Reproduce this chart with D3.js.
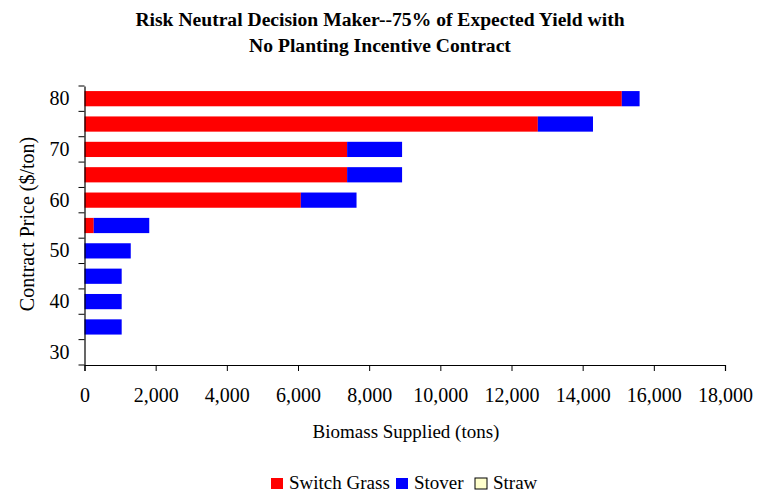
<!DOCTYPE html>
<html>
<head>
<meta charset="utf-8">
<script src="https://cdn.jsdelivr.net/npm/d3@7"></script>
<style>
  html, body { margin: 0; padding: 0; background: #fff; }
  svg { display: block; font-family: "Liberation Serif", "Times New Roman", serif; }
</style>
</head>
<body>
<svg id="chart" width="763" height="496"></svg>
<script>
// Contract price levels ($/ton), top to bottom
const prices = [80, 75, 70, 65, 60, 55, 50, 45, 40, 35, 30];
const labeledPrices = [80, 70, 60, 50, 40, 30];

// Biomass supplied (tons) by feedstock at each price
const switchGrass = [15100, 12740, 7380, 7380, 6080, 260, 0, 0, 0, 0, 0];
const stover      = [500, 1550, 1545, 1545, 1565, 1560, 1300, 1045, 1045, 1045, 0];
const straw       = [0, 0, 0, 0, 0, 0, 0, 0, 0, 0, 0];

const seriesNames = ["Switch Grass", "Stover", "Straw"];
const seriesColors = ["#ff0000", "#0000ff", "#ffffcc"];
const xTicks = [0, 2000, 4000, 6000, 8000, 10000, 12000, 14000, 16000, 18000];

const rows = prices.map((p, i) => ({
  price: p,
  "Switch Grass": switchGrass[i],
  "Stover": stover[i],
  "Straw": straw[i]
}));

const svg = d3.select("#chart");
const margin = { left: 84.5, right: 38, top: 86, bottom: 131 };
const W = 763, H = 496;

const x = d3.scaleLinear()
  .domain([0, 18000])
  .range([margin.left, W - margin.right]);

// Inner padding / 2 equals outer padding, so category boundaries sit evenly between bars
const y = d3.scaleBand()
  .domain(prices)
  .range([margin.top, H - margin.bottom])
  .paddingInner(0.4)
  .paddingOuter(0.2);

const color = d3.scaleOrdinal().domain(seriesNames).range(seriesColors);

const stacked = d3.stack().keys(seriesNames)(rows);

// Stacked bars
svg.append("g")
  .selectAll("g")
  .data(stacked)
  .join("g")
  .attr("fill", d => color(d.key))
  .selectAll("rect")
  .data(d => d)
  .join("rect")
  .attr("x", d => x(d[0]))
  .attr("y", d => y(d.data.price))
  .attr("width", d => Math.max(0, x(d[1]) - x(d[0])))
  .attr("height", y.bandwidth());

// X axis
const xAxis = svg.append("g")
  .attr("transform", `translate(0,${H - margin.bottom})`)
  .call(d3.axisBottom(x).tickValues(xTicks).tickFormat(d3.format(",")).tickSizeOuter(0).tickSize(6).tickPadding(17));
xAxis.select(".domain").attr("stroke", "#000").attr("stroke-width", 1.2);
xAxis.selectAll(".tick line").attr("stroke", "#000");
xAxis.selectAll(".tick text")
  .attr("font-size", 20)
  .attr("font-family", "Liberation Serif, Times New Roman, serif")
  .attr("fill", "#000");

// Y axis: labels at every other price, ticks at category boundaries
const yAxis = svg.append("g")
  .attr("transform", `translate(${margin.left},0)`)
  .call(d3.axisLeft(y).tickValues(labeledPrices).tickSize(0).tickPadding(15).tickSizeOuter(0));
yAxis.select(".domain").attr("stroke", "#000").attr("stroke-width", 1.2);
yAxis.selectAll(".tick text")
  .attr("font-size", 20)
  .attr("font-family", "Liberation Serif, Times New Roman, serif")
  .attr("fill", "#000");

const boundaries = prices
  .map(p => y(p) - y.paddingOuter() * y.step())
  .concat([y.range()[1]]);
svg.append("g")
  .selectAll("line")
  .data(boundaries)
  .join("line")
  .attr("x1", margin.left - 6)
  .attr("x2", margin.left)
  .attr("y1", d => d)
  .attr("y2", d => d)
  .attr("stroke", "#000");

// Title
const title = svg.append("text")
  .attr("text-anchor", "middle")
  .attr("font-weight", "bold")
  .attr("font-size", 19.6)
  .attr("fill", "#000");
title.append("tspan").attr("x", 380).attr("y", 26)
  .text("Risk Neutral Decision Maker--75% of Expected Yield with");
title.append("tspan").attr("x", 380).attr("y", 52)
  .text("No Planting Incentive Contract");

// Axis titles
svg.append("text")
  .attr("x", 406).attr("y", 438)
  .attr("text-anchor", "middle")
  .attr("font-size", 19)
  .attr("fill", "#000")
  .text("Biomass Supplied (tons)");

svg.append("text")
  .attr("transform", "translate(34,224) rotate(-90)")
  .attr("text-anchor", "middle")
  .attr("font-size", 20)
  .attr("fill", "#000")
  .text("Contract Price ($/ton)");

// Legend
const legendX = [271, 396, 475];
const legend = svg.append("g");
seriesNames.forEach((name, i) => {
  legend.append("rect")
    .attr("x", legendX[i]).attr("y", 478)
    .attr("width", 12).attr("height", 11)
    .attr("fill", color(name))
    .attr("stroke", name === "Straw" ? "#000" : "none")
    .attr("stroke-width", 1);
  legend.append("text")
    .attr("x", legendX[i] + 18).attr("y", 489)
    .attr("font-size", 19)
    .attr("fill", "#000")
    .text(name);
});
</script>
</body>
</html>
